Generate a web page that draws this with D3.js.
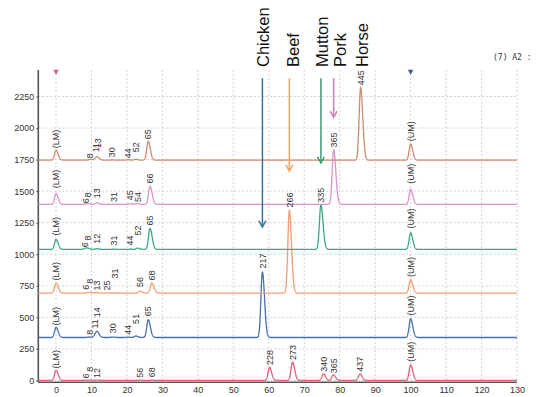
<!DOCTYPE html>
<html><head><meta charset="utf-8">
<script src="https://cdn.jsdelivr.net/npm/d3@7"></script>
<style>
html,body{margin:0;padding:0;background:#fff;}
svg{display:block;}
.tick text{font-family:"Liberation Sans Narrow","Arial Narrow","Liberation Sans",sans-serif;}
</style></head>
<body>
<svg id="chart" width="554" height="397"></svg>
<script>
// ---------- data ----------
const xTickValues = [0,10,20,30,40,50,60,70,80,90,100,110,120,130];
const yTickValues = [0,250,500,750,1000,1250,1500,1750,2000,2250];

// baselines (signal units) of the six traces, bottom to top
const traceNames = ["Mixture","Chicken","Beef","Mutton","Pork","Horse"];
const traceBaselines = [0, 340, 692, 1038, 1395, 1745];

// peaks per trace: [time, height above baseline, size label, label level above baseline]
const peaksMixture = [
  [0, 80, "(LM)", 95], [8.5, 2, "6", 16], [9.4, 2, "8", 69], [11.5, 3, "12", 19],
  [23.7, 2, "56", 21], [27.0, 2, "68", 25],
  [60.2, 103, "228", 122], [66.7, 145, "273", 162], [75.4, 51, "340", 69],
  [78.2, 43, "365", 56], [85.7, 51, "437", 69], [100, 122, "(UM)", 148]
];
const peaksChicken = [
  [0, 80, "(LM)", 95], [9.4, 4, "8", 21], [11.0, 15, "11", 71], [11.6, 40, "14", 161],
  [15.9, 3, "30", 34], [20.2, 3, "44", 21], [22.5, 12, "51", 108], [26.0, 140, "65", 169],
  [58.2, 517, "217", 547], [100, 148, "(UM)", 174]
];
const peaksBeef = [
  [0, 79, "(LM)", 100], [8.5, 3, "6", 27], [9.4, 5, "8", 74], [11.5, 4, "13", 21],
  [14.3, 2, "25", 21], [16.6, 2, "31", 116], [23.7, 14, "56", 48], [27.0, 80, "68", 100],
  [65.8, 655, "266", 679], [100, 106, "(UM)", 127]
];
const peaksMutton = [
  [0, 79, "(LM)", 111], [8.2, 8, "6", 18], [9.0, 8, "8", 71], [11.5, 6, "12", 45],
  [16.4, 2, "31", 32], [20.9, 2, "44", 32], [23.0, 10, "52", 111], [26.5, 166, "65", 190],
  [74.7, 352, "335", 370], [100, 132, "(UM)", 166]
];
const peaksPork = [
  [0, 85, "(LM)", 127], [8.5, 4, "6", 8], [9.1, 4, "8", 57], [11.5, 12, "13", 48],
  [16.4, 2, "31", 18], [20.9, 6, "45", 32], [23.0, 6, "54", 18], [26.5, 143, "66", 166],
  [78.3, 433, "365", 451], [100, 119, "(UM)", 164]
];
const peaksHorse = [
  [0, 80, "(LM)", 95], [9.6, 6, "8", 16], [11.2, 18, "11", 63], [11.8, 15, "13", 95],
  [15.8, 3, "30", 24], [20.3, 4, "44", 16], [22.5, 8, "52", 63], [26.0, 150, "65", 166],
  [85.9, 575, "445", 594], [100, 127, "(UM)", 150]
];
const tracePeaks = [peaksMixture, peaksChicken, peaksBeef, peaksMutton, peaksPork, peaksHorse];

// legend species, the time their arrow points at, where their name sits, and the arrow tip level
const legendNames = ["Chicken","Beef","Mutton","Pork","Horse"];
const legendTimes = [58.2, 65.8, 74.7, 78.3, 85.9];
const legendLabelTimes = [58.4, 66.8, 74.9, 80.1, 86.4];
const legendArrowTips = [1216, 1660, 1723, 2086, null];

// ---------- styles ----------
const traceColors = ["#e2607a","#4a6fb0","#f0a070","#3aaa80","#d895c6","#cf8a70"];
const arrowColors = ["#2f76a8","#f2a467","#3a9f70","#d27fbd",null];

// ---------- chart ----------
const svg = d3.select("#chart");
const x = d3.scaleLinear().domain([-5,130]).range([38.3,517]);
const y = d3.scaleLinear().domain([-15,2460]).range([382.3,70]);

// grid
const grid = svg.append("g");
grid.selectAll("line.h").data(yTickValues).join("line")
  .attr("x1",x(-5)).attr("x2",x(130)).attr("y1",d=>y(d)).attr("y2",d=>y(d))
  .attr("stroke","#c9c9c9").attr("stroke-dasharray","2,2").attr("stroke-width",0.8);
grid.selectAll("line.v").data(xTickValues).join("line")
  .attr("y1",y(2460)).attr("y2",y(-15)).attr("x1",d=>x(d)).attr("x2",d=>x(d))
  .attr("stroke","#c9c9c9").attr("stroke-dasharray","2,2").attr("stroke-width",0.8);

// axes
const xAxis = svg.append("g").attr("transform",`translate(0,${y(-15)})`)
  .call(d3.axisBottom(x).tickValues(xTickValues).tickFormat(d3.format("d")).tickSize(0).tickPadding(4));
const yAxis = svg.append("g").attr("transform",`translate(${x(-5)},0)`)
  .call(d3.axisLeft(y).tickValues(yTickValues).tickFormat(d3.format("d")).tickSize(2).tickPadding(2));
[xAxis,yAxis].forEach(a=>{
  a.select(".domain").attr("stroke","#555").attr("stroke-width",1.6);
  a.selectAll(".tick text").attr("font-size",9).attr("fill","#333");
  a.selectAll(".tick line").attr("stroke","#555");
});
yAxis.select(".domain").attr("d",`M0,${y(2460)}V${y(-15)}`);
xAxis.select(".domain").attr("d",`M${x(-5)},0H${x(130)}`);

// traces
const samples = d3.range(-5,130.001,0.05);
function signal(peaks, t){
  let s = 0;
  for(const p of peaks){
    const sg = t < p[0] ? 0.42 : 0.6;
    const d = (t-p[0])/sg;
    s += p[1]*Math.exp(-0.5*d*d);
  }
  return s;
}
const line = d3.line().x(d=>x(d[0])).y(d=>y(d[1]));
tracePeaks.forEach((peaks,i)=>{
  const base = traceBaselines[i];
  svg.append("path")
    .attr("d", line(samples.map(t=>[t, base+signal(peaks,t)])))
    .attr("fill","none").attr("stroke",traceColors[i]).attr("stroke-width",1.3);
});

// peak labels
const labG = svg.append("g")
  .attr("font-family","'Liberation Sans Narrow','Arial Narrow','Liberation Sans',sans-serif")
  .attr("font-size",9).attr("fill","#333");
tracePeaks.forEach((peaks,i)=>{
  const base = traceBaselines[i];
  peaks.forEach(p=>{
    labG.append("text")
      .attr("transform",`translate(${x(p[0])+3.2},${y(base+p[3])}) rotate(-90)`)
      .attr("text-anchor","start")
      .text(p[2]);
  });
});

// lane markers
const tri = d3.symbol().type(d3.symbolTriangle).size(14);
svg.append("path").attr("d",tri()).attr("transform",`translate(${x(0)},${y(2460)+1.5}) rotate(180)`)
  .attr("fill","#d9607e");
svg.append("path").attr("d",tri()).attr("transform",`translate(${x(100)},${y(2460)+1.5}) rotate(180)`)
  .attr("fill","#3b5ea8");

// header text
svg.append("text").attr("x",493).attr("y",60)
  .attr("font-family","'DejaVu Sans Mono',monospace").attr("font-size",8).attr("fill","#333")
  .text("(7) A2 :");

// legend labels and arrows
const legG = svg.append("g");
legendNames.forEach((name,i)=>{
  const lx = x(legendLabelTimes[i]);
  legG.append("text")
    .attr("transform",`translate(${lx+6},67) rotate(-90)`)
    .attr("font-family","'Liberation Sans',Arial,sans-serif").attr("font-size",16.5).attr("fill","#111")
    .text(name);
  if(legendArrowTips[i]!==null){
    const cx = x(legendTimes[i]);
    const ty = y(legendArrowTips[i]);
    legG.append("line").attr("x1",cx).attr("x2",cx).attr("y1",y(2395)).attr("y2",ty)
      .attr("stroke",arrowColors[i]).attr("stroke-width",1.5);
    legG.append("path").attr("d",`M${cx-3.5},${ty-6}L${cx},${ty}L${cx+3.5},${ty-6}`)
      .attr("fill","none").attr("stroke",arrowColors[i]).attr("stroke-width",1.5);
  }
});
</script>
</body></html>
